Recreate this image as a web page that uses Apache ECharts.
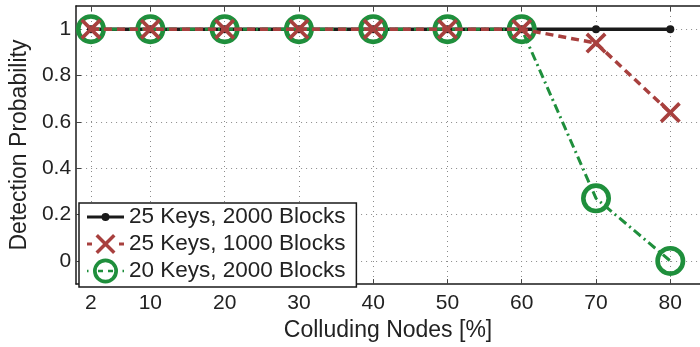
<!DOCTYPE html>
<html>
<head>
<meta charset="utf-8">
<script src="https://cdn.jsdelivr.net/npm/echarts@6/dist/echarts.min.js"></script>
<style>
html,body{margin:0;padding:0;background:#fff;}
#chart{width:700px;height:347px;}
</style>
</head>
<body>
<div id="chart"></div>
<script>
// ---- data ----
const colluding = [2, 10, 20, 30, 40, 50, 60, 70, 80];
const keys25blocks2000 = [1, 1, 1, 1, 1, 1, 1, 1, 1];
const keys25blocks1000 = [1, 1, 1, 1, 1, 1, 1, 0.94, 0.64];
const keys20blocks2000 = [1, 1, 1, 1, 1, 1, 1, 0.27, 0];
const xTicks = [2, 10, 20, 30, 40, 50, 60, 70, 80];
const yTicks = [0, 0.2, 0.4, 0.6, 0.8, 1];
const seriesNames = ['25 Keys, 2000 Blocks', '25 Keys, 1000 Blocks', '20 Keys, 2000 Blocks'];

const FONT = 'Liberation Sans, Arial, Helvetica, sans-serif';
const BLACK = '#1a1a1a';
const RED = '#a8403e';
const GREEN = '#1f8f3c';

// symbols
const xSymbol = 'path://M-10,-7.53L-7.53,-10L0,-2.47L7.53,-10L10,-7.53L2.47,0L10,7.53L7.53,10L0,2.47L-7.53,10L-10,7.53L-2.47,0Z';
const ringSymbol = 'path://M-15,0A15,15 0 1 1 15,0A15,15 0 1 1 -15,0ZM-10.4,0A10.4,10.4 0 1 0 10.4,0A10.4,10.4 0 1 0 -10.4,0Z';

// legend icons (37 x 26 box); degenerate anchors keep the full box extent
const anchors = 'M18,0L18.001,0L18,0ZM18,26L18.001,26L18,26Z';
const iconBlack = 'path://' + anchors + 'M0,11.5L37,11.5L37,14.5L0,14.5ZM14.5,13A4,4 0 1 1 22.5,13A4,4 0 1 1 14.5,13Z';
const iconRed = 'path://' + anchors + 'M0,11.5L5,11.5L5,14.5L0,14.5ZM32,11.5L37,11.5L37,14.5L32,14.5Z' +
  'M8.5,5.47L10.97,3L18.5,10.53L26.03,3L28.5,5.47L20.97,13L28.5,20.53L26.03,23L18.5,15.47L10.97,23L8.5,20.53L16.03,13Z';
const iconGreen = 'path://' + anchors + 'M0,11.8L1.5,11.8L1.5,14.2L0,14.2ZM35.5,11.8L37,11.8L37,14.2L35.5,14.2Z' +
  'M11,11.8L16,11.8L16,14.2L11,14.2ZM21,11.8L26,11.8L26,14.2L21,14.2Z' +
  'M6,13A12.5,12.5 0 1 1 31,13A12.5,12.5 0 1 1 6,13ZM9.7,13A8.8,8.8 0 1 0 27.3,13A8.8,8.8 0 1 0 9.7,13Z';

function pairs(xs, ys) { return xs.map((x, i) => [x, ys[i]]); }

const chart = echarts.init(document.getElementById('chart'), null, {renderer: 'canvas'});
chart.setOption({
  animation: false,
  backgroundColor: '#fff',
  textStyle: {fontFamily: FONT},
  grid: {left: 73, right: -1, top: 6, bottom: 54, containLabel: false},
  xAxis: [{
    type: 'value', min: 0, max: 84, position: 'bottom',
    name: 'Colluding Nodes [%]', nameLocation: 'middle', nameGap: 26,
    nameTextStyle: {fontSize: 23, color: '#222', fontFamily: FONT},
    axisLine: {show: true, onZero: false, lineStyle: {color: BLACK, width: 1.5}},
    axisTick: {show: true, inside: true, length: 5, customValues: xTicks, lineStyle: {color: '#444', width: 1}},
    axisLabel: {show: true, customValues: xTicks, fontSize: 21, color: '#222', margin: 9, fontFamily: FONT},
    splitLine: {show: true, lineStyle: {color: '#8a8a8a', width: 1, type: [1, 4]}}
  }, {
    type: 'value', min: 0, max: 84, position: 'top',
    axisLine: {show: true, onZero: false, lineStyle: {color: BLACK, width: 1.5}},
    axisTick: {show: true, inside: true, length: 5, customValues: xTicks, lineStyle: {color: '#444', width: 1}},
    axisLabel: {show: false},
    splitLine: {show: false}
  }],
  yAxis: {
    type: 'value', min: -0.1, max: 1.1,
    name: 'Detection Probability', nameLocation: 'middle', nameGap: 43,
    nameTextStyle: {fontSize: 23, color: '#222', fontFamily: FONT},
    axisLine: {show: true, onZero: false, lineStyle: {color: BLACK, width: 1.5}},
    axisTick: {show: true, inside: true, length: 5, customValues: yTicks, lineStyle: {color: '#444', width: 1}},
    axisLabel: {show: true, customValues: yTicks, fontSize: 21, color: '#222', margin: 5, fontFamily: FONT},
    splitLine: {show: true, lineStyle: {color: '#8a8a8a', width: 1, type: [1, 4]}}
  },
  legend: {
    orient: 'vertical', left: 79, top: 203,
    padding: [1, 11, 3, 8], itemGap: 1, itemWidth: 37, itemHeight: 26,
    borderColor: BLACK, borderWidth: 1.5, backgroundColor: '#fff',
    textStyle: {fontSize: 22.5, color: '#222', fontFamily: FONT},
    data: [
      {name: seriesNames[0], icon: iconBlack, itemStyle: {color: BLACK, borderWidth: 0}},
      {name: seriesNames[1], icon: iconRed, itemStyle: {color: RED, borderWidth: 0}},
      {name: seriesNames[2], icon: iconGreen, itemStyle: {color: GREEN, borderWidth: 0}}
    ]
  },
  series: [{
    name: seriesNames[0], type: 'line', z: 2,
    data: pairs(colluding, keys25blocks2000),
    symbol: 'circle', symbolSize: 8,
    itemStyle: {color: BLACK, borderWidth: 0},
    lineStyle: {color: BLACK, width: 3.5}
  }, {
    name: seriesNames[1], type: 'line', z: 4,
    data: pairs(colluding, keys25blocks1000),
    symbol: xSymbol, symbolSize: 21,
    itemStyle: {color: RED, borderWidth: 0},
    lineStyle: {color: RED, width: 3.5, type: [8, 5]}
  }, {
    name: seriesNames[2], type: 'line', z: 3,
    data: pairs(colluding, keys20blocks2000),
    symbol: ringSymbol, symbolSize: 30,
    itemStyle: {color: GREEN, borderWidth: 0},
    lineStyle: {color: GREEN, width: 3, type: [9, 4, 2, 4]}
  }]
});
</script>
</body>
</html>
